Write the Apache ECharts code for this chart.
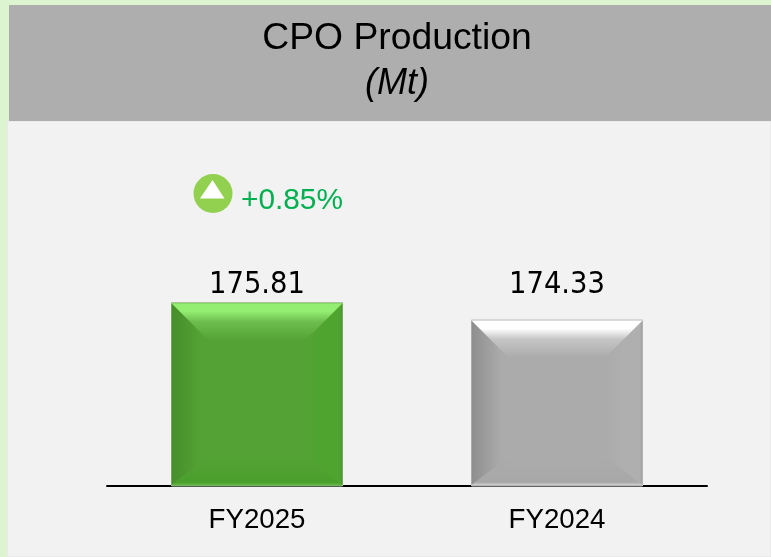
<!DOCTYPE html>
<html><head><meta charset="utf-8">
<style>html,body{margin:0;padding:0;background:#DCF5D0}#c{width:771px;height:557px}</style>
<script src="https://cdn.jsdelivr.net/npm/echarts@6/dist/echarts.min.js"></script></head>
<body><div id="c"></div><script>
const categories = ['FY2025', 'FY2024'];
const values = [175.81, 174.33];
const titleText = 'CPO Production';
const unitText = '(Mt)';
const changeText = '+0.85%';
const faceColors = ['#54A235', '#ABABAB'];
const topBright = ['#94EE72', '#FFFFFF'];
const topMid = ['#6DBD4E', '#C6C6C6'];
const leftEdge = ['#468E2A', '#8E8E8E'];
const rightEdge = ['#4A962C', '#9E9E9E'];
const rightMid = ['#4EA42F', '#AFAFAF'];
const bottomMid = ['#4A9F2C', '#A8A8A8'];
const bottomEdge = ['#62B544', '#CFCFCF'];
const edgeColors = ['#9DBF90', '#C4C4C4'];
const chart = echarts.init(document.getElementById('c'));
const grad = (x2, y2, stops) => new echarts.graphic.LinearGradient(0, 0, x2, y2, stops.map(s=>({offset:s[0],color:s[1]})));
chart.setOption({
  animation:false,
  backgroundColor:'#DCF5D0',
  textStyle:{fontFamily:'Liberation Sans'},
  graphic:[
    {type:'rect',z:-10,shape:{x:7,y:121,width:764,height:436},style:{fill:'#F2F2F2',stroke:'#E4E4E4',lineWidth:1}},
    {type:'rect',z:-9,shape:{x:9,y:5,width:762,height:116},style:{fill:'#AEAEAE'}},
    {type:'circle',z:5,shape:{cx:213,cy:193.5,r:19.5},style:{fill:'#92D050'}},
    {type:'polygon',z:6,shape:{points:[[212.5,180],[224.5,198.5],[200,198.5]]},style:{fill:'#FFFFFF'}},
    {type:'text',z:6,x:241,y:201,style:{text:changeText,fill:'#00B050',font:'29.8px "Liberation Sans"',textVerticalAlign:'middle'}}
  ],
  title:{
    text:titleText, subtext:unitText, left:392, top:15, textAlign:'center', itemGap:7,
    textStyle:{fontFamily:'Liberation Sans',fontSize:37.3,fontWeight:'normal',color:'#000',lineHeight:38},
    subtextStyle:{fontFamily:'Liberation Sans',fontSize:36,fontStyle:'italic',color:'#000',lineHeight:38}
  },
  grid:{left:107,width:600,top:300,height:186},
  xAxis:{type:'category',data:categories,
    axisLine:{lineStyle:{color:'#000',width:2}},axisTick:{show:false},
    axisLabel:{color:'#000',fontSize:27.7,margin:20,fontFamily:'Liberation Sans'}},
  yAxis:{type:'value',min:160,max:176,show:false,splitLine:{show:false}},
  series:[
    {type:'bar',barWidth:172,data:values.map((v,i)=>({value:v,itemStyle:{color:faceColors[i],borderColor:edgeColors[i],borderWidth:1},label:{distance:i===0?2:19}})),
     label:{show:true,position:'top',color:'#000',fontSize:30.5,fontFamily:'DejaVu Sans Condensed',formatter:p=>p.value.toFixed(2)}},
    {type:'custom',z:3,silent:true,data:values.map((v,i)=>[i,v]),
     encode:{x:0,y:1},
     renderItem(params,api){
       const i=api.value(0), top=api.coord([i,api.value(1)]), base=api.coord([i,160]);
       const hw=85.5, x0=top[0]-hw, x1=top[0]+hw, y0=top[1]+1, y1=base[1]-1, d=37, db=28;
       const f=faceColors[i];
       const poly=(points,fill)=>({type:'polygon',shape:{points},style:{fill}});
       return {type:'group',children:[
         poly([[x0,y0],[x0+d,y0+d],[x0+d,y1-db],[x0,y1]],grad(1,0,[[0,leftEdge[i]],[0.8,f],[1,f]])),
         poly([[x1,y0],[x1-d,y0+d],[x1-d,y1-db],[x1,y1]],grad(1,0,[[0,f],[0.5,rightMid[i]],[0.93,rightMid[i]],[1,rightEdge[i]]])),
         poly([[x0,y1],[x0+d,y1-db],[x1-d,y1-db],[x1,y1]],grad(0,1,[[0,f],[0.9,bottomMid[i]],[1,bottomEdge[i]]])),
         poly([[x0,y0],[x1,y0],[x1-d,y0+d],[x0+d,y0+d]],grad(0,1,[[0,topBright[i]],[0.22,topBright[i]],[0.5,topMid[i]],[1,f]]))
       ]};
     }}
  ]
});
</script></body></html>
